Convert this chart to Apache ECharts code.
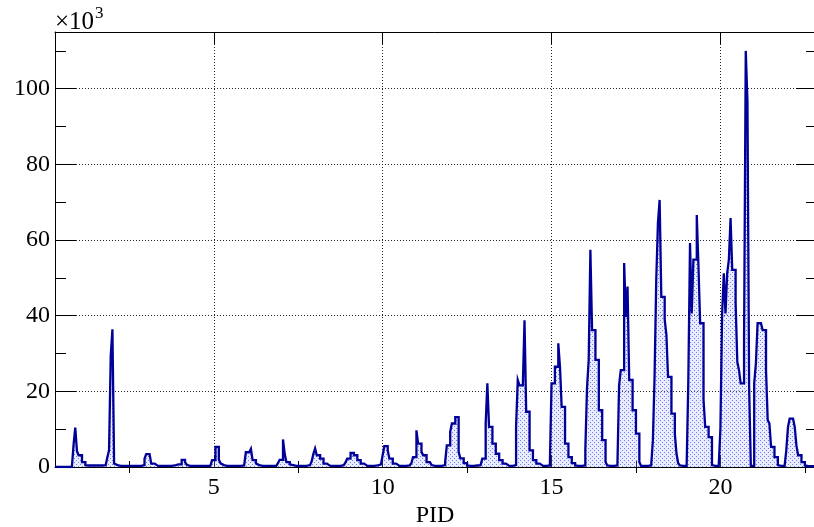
<!DOCTYPE html>
<html><head><meta charset="utf-8">
<script src="https://cdn.jsdelivr.net/npm/echarts@6/dist/echarts.min.js"></script>
<style>html,body{margin:0;padding:0;background:#fff}#c{width:814px;height:527px}</style>
</head><body><div id="c"></div>
<script>
// ---- data (counts in units of 10^3), bins of width 0.05 starting at 0.3 ----
const binStart = 0.3;
const binWidth = 0.05;
const xMin = 0.3, xMax = 22.8, yMax = 115;
const xMajorTicks = [5, 10, 15, 20];
const xMinorTicks = [2.5, 7.5, 12.5, 17.5, 22.5];
const yMajorTicks = [0, 20, 40, 60, 80, 100];
const yMinorTicks = [10, 30, 50, 70, 90, 110];

const counts_head = [0,0,0,0,0,0,0,0,0,0];                                   // 0.30-0.80
const counts_01 = [0,5.9,10.4,4.2,3.1,3.1,1.3,1.3,0.5,0.4,0.4,0.4,0.4,0.4,0.4,0.4,0.4,0.4,0.5,0.5]; // 0.80-1.80
const counts_02 = [0.6,2.6,4.4,29.4,36.4,0.9,0.5,0.4,0.3,0.3,0.3,0.3,0.3,0.3,0.3,0.3,0.3,0.3,0.3,0.3];
const counts_03 = [0.3,0.3,0.5,2.2,3.4,3.4,3.4,0.9,0.9,0.4,0.3,0.3,0.3,0.3,0.3,0.3,0.3,0.3,0.3,0.4];
const counts_04 = [0.4,0.7,0.7,0.7,0.7,1.9,1.9,1.3,0.6,0.3,0.3,0.3,0.3,0.3,0.3,0.3,0.3,0.3,0.3,0.3];
const counts_05 = [0.3,0.3,0.4,1.8,1.8,5.3,5.3,2.0,1.0,0.5,0.3,0.3,0.3,0.3,0.3,0.3,0.3,0.3,0.3,0.3];
const counts_06 = [0.3,0.4,0.6,3.9,3.9,3.9,4.8,1.8,1.8,0.9,0.5,0.4,0.3,0.3,0.3,0.3,0.3,0.3,0.3,0.3];
const counts_07 = [0.3,0.4,1.0,1.9,1.9,7.3,3.5,1.3,1.3,0.7,0.5,0.4,0.3,0.3,0.3,0.3,0.3,0.3,0.3,0.4];
const counts_08 = [0.5,0.8,1.5,3.5,4.9,3.1,3.1,2.2,2.2,0.9,0.9,0.4,0.3,0.3,0.3,0.3,0.3,0.3,0.3,0.4];
const counts_09 = [0.5,0.8,1.2,2.2,2.2,3.7,3.7,3.1,3.1,1.8,1.8,0.9,0.9,0.4,0.3,0.3,0.3,0.3,0.3,0.4];
const counts_10 = [0.4,0.5,0.7,1.0,3.1,5.5,5.5,4.4,2.2,2.2,0.9,0.9,0.4,0.3,0.3,0.3,0.3,0.3,0.3,0.4];
const counts_11 = [0.4,1.0,2.6,2.6,9.7,6.2,6.2,4.0,3.1,3.1,1.3,1.3,1.3,0.5,0.3,0.3,0.3,0.3,0.3,0.4];
const counts_12 = [0.5,1.3,5.7,5.7,9.3,11.5,11.5,13.2,13.2,4.0,2.3,2.3,1.0,1.0,0.4,0.3,0.3,0.3,0.3,0.4];
const counts_13 = [0.4,0.5,0.5,2.2,2.2,11.5,22.1,10.6,10.6,6.2,6.2,3.5,3.5,1.8,1.8,0.9,0.9,0.4,0.3,0.3];
const counts_14 = [0.3,0.4,0.5,10.6,23.0,21.6,21.6,21.6,38.8,14.6,14.6,4.4,4.4,1.8,1.8,0.9,0.9,0.4,0.3,0.3];
const counts_15 = [0.3,0.3,0.4,0.5,22.1,22.1,26.5,26.5,32.7,26.5,15.9,15.9,6.2,6.2,2.6,2.6,1.0,1.0,0.4,0.3];
const counts_16 = [0.3,0.3,0.3,0.4,4.4,20.8,28.3,57.4,36.2,36.2,28.3,28.3,15.0,15.0,7.1,7.1,1.3,0.4,0.3,0.3];
const counts_17 = [0.3,0.3,0.4,0.5,21.6,25.6,25.6,53.9,39.7,47.7,23.0,23.0,15.0,15.0,8.8,8.8,1.3,0.3,0.3,0.3];
const counts_18 = [0.3,0.3,0.4,0.5,7.1,23.8,49.5,64.5,70.6,45.0,45.0,39.0,35.0,23.8,23.8,14.1,14.1,8.8,3.5,1.0];
const counts_19 = [0.4,0.3,0.3,0.3,0.4,23.0,59.2,40.6,54.8,54.8,66.6,53.0,38.0,38.0,17.7,10.6,10.6,7.9,7.9,0.5];
const counts_20 = [0.3,0.3,0.3,0.4,10.2,40.6,51.2,40.6,51.2,54.8,65.8,52.1,52.1,43.3,27.8,25.6,22.1,22.1,34.0,110];
const counts_21 = [96.7,21.0,0.3,0.3,22.1,27.4,38.0,38.0,38.0,36.2,36.2,25.6,12.4,11.5,5.3,5.3,2.6,2.6,0.5,0.3];
const counts_22 = [0.3,0.3,0.4,4.4,10.6,12.8,12.8,12.8,10.6,5.7,3.1,3.1,1.3,1.3,0.4,0.2,0.2,0.2,0.2,0.2];

const chunks = [counts_head, counts_01, counts_02, counts_03, counts_04, counts_05, counts_06,
  counts_07, counts_08, counts_09, counts_10, counts_11, counts_12, counts_13, counts_14,
  counts_15, counts_16, counts_17, counts_18, counts_19, counts_20, counts_21, counts_22];
const counts = [].concat(...chunks);
const points = counts.map((v, i) => [+(binStart + i * binWidth).toFixed(3), v]);
points.push([+(binStart + counts.length * binWidth).toFixed(3), counts[counts.length - 1]]);

// ---- styling ----
const FONT = "'Liberation Serif','DejaVu Serif',serif";
const pc = document.createElement('canvas'); pc.width = 4; pc.height = 4;
const g = pc.getContext('2d');
g.fillStyle = 'rgba(160,175,255,0.33)'; g.fillRect(0, 0, 4, 4);
g.fillStyle = '#3848ee'; g.fillRect(0, 0, 1, 1); g.fillRect(2, 2, 1, 1);

const gridBox = {left: 55, top: 32, right: -1, bottom: 60, outerBoundsMode: 'none', containLabel: false};
const black = '#000';
const dotted = {show: true, lineStyle: {color: '#222', type: [1, 2], width: 1}};

function xAx(opts) {
  return Object.assign({type: 'value', min: xMin, max: xMax, axisLine: {show: false},
    axisLabel: {show: false}, splitLine: {show: false}, axisTick: {show: false}}, opts);
}
function yAx(opts) {
  return Object.assign({type: 'value', min: 0, max: yMax, axisLine: {show: false},
    axisLabel: {show: false}, splitLine: {show: false}, axisTick: {show: false}}, opts);
}

const chart = echarts.init(document.getElementById('c'), null, {renderer: 'canvas'});
chart.setOption({
  animation: false,
  backgroundColor: '#fff',
  grid: [Object.assign({}, gridBox), Object.assign({}, gridBox)],
  xAxis: [
    xAx({gridIndex: 0, position: 'bottom',
      axisLine: {show: true, onZero: false, lineStyle: {color: black, width: 1}},
      axisTick: {show: true, inside: true, length: 12, customValues: xMajorTicks, lineStyle: {color: black}},
      axisLabel: {show: true, customValues: xMajorTicks, margin: 9, color: black, fontSize: 24, fontFamily: FONT},
      splitLine: dotted,
      name: 'PID', nameLocation: 'middle', nameGap: 37, nameMoveOverlap: false,
      nameTextStyle: {color: black, fontSize: 24, fontFamily: FONT}}),
    xAx({gridIndex: 0, position: 'top',
      axisLine: {show: true, onZero: false, lineStyle: {color: black, width: 1}},
      axisTick: {show: true, inside: true, length: 12, customValues: xMajorTicks, lineStyle: {color: black}}}),
    xAx({gridIndex: 1, position: 'bottom',
      axisTick: {show: true, inside: true, length: 6, customValues: xMinorTicks, lineStyle: {color: black}}}),
    xAx({gridIndex: 1, position: 'top',
      axisTick: {show: true, inside: true, length: 6, customValues: xMinorTicks, lineStyle: {color: black}}})
  ],
  yAxis: [
    yAx({gridIndex: 0, position: 'left',
      axisLine: {show: true, onZero: false, lineStyle: {color: black, width: 1}},
      axisTick: {show: true, inside: true, length: 21, customValues: yMajorTicks, lineStyle: {color: black}},
      axisLabel: {show: true, customValues: yMajorTicks, margin: 5, color: black, fontSize: 24, fontFamily: FONT},
      splitLine: dotted,
      name: '{a|×10}{b|3}', nameLocation: 'end', nameGap: -3, nameMoveOverlap: false,
      nameTextStyle: {color: black, fontSize: 24, fontFamily: FONT, align: 'left', verticalAlign: 'bottom',
        rich: {
          a: {fontSize: 25, fontFamily: FONT, color: black, lineHeight: 30, verticalAlign: 'bottom'},
          b: {fontSize: 17, fontFamily: FONT, color: black, lineHeight: 30, verticalAlign: 'top', padding: [0, 0, 0, 1]}
        }}}),
    yAx({gridIndex: 0, position: 'right',
      axisLine: {show: true, onZero: false, lineStyle: {color: black, width: 1}},
      axisTick: {show: true, inside: true, length: 19, customValues: yMajorTicks, lineStyle: {color: black}}}),
    yAx({gridIndex: 1, position: 'left',
      axisTick: {show: true, inside: true, length: 11, customValues: yMinorTicks, lineStyle: {color: black}}}),
    yAx({gridIndex: 1, position: 'right',
      axisTick: {show: true, inside: true, length: 9, customValues: yMinorTicks, lineStyle: {color: black}}})
  ],
  series: [{
    type: 'line', xAxisIndex: 0, yAxisIndex: 0, step: 'end', data: points,
    showSymbol: false, symbol: 'none', clip: true,
    lineStyle: {color: '#000099', width: 2.3, join: 'miter'},
    areaStyle: {color: {image: pc, repeat: 'repeat'}, origin: 'start'}
  }]
});
</script></body></html>
